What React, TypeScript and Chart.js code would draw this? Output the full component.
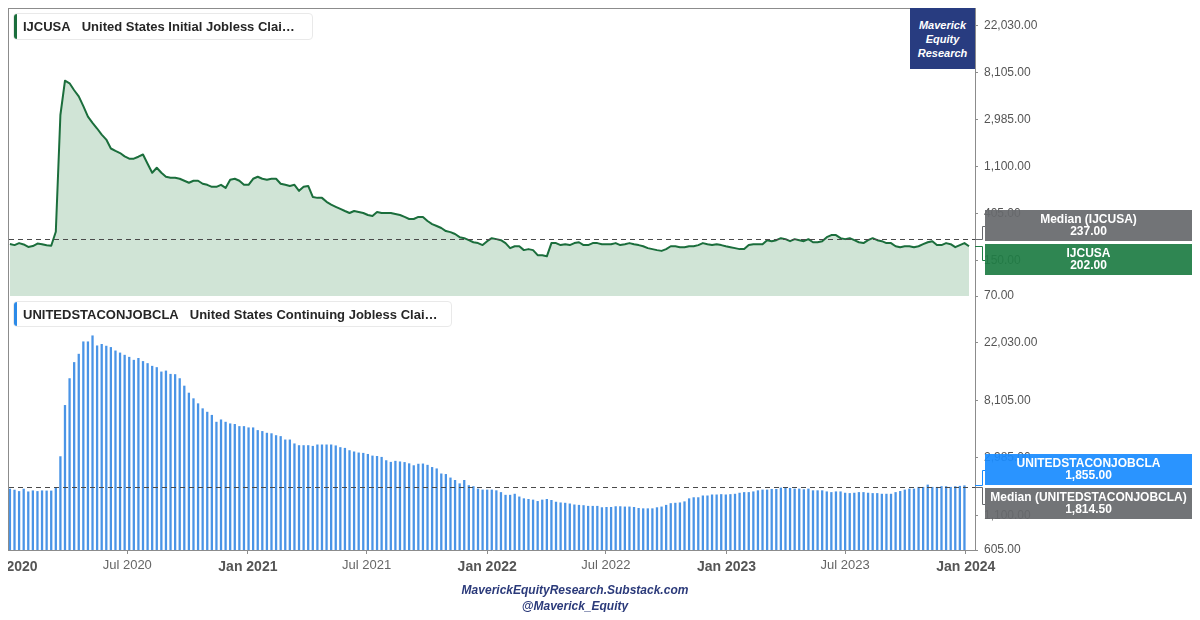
import React, { useEffect, useRef } from 'react';
import { Chart, registerables } from 'chart.js';

Chart.register(...registerables);

// Weekly data, first week ending 2020-01-04 (thousands)
const firstWeek = '2020-01-04';

const initialClaims = [
  212, 207, 216, 210, 199, 203, 214, 211, 206, 204,
  275, 3307, 6867, 6500, 5600, 4910, 4000, 3200, 2800, 2480,
  2180, 1960, 1620, 1540, 1470, 1370, 1304, 1304, 1360, 1425,
  1170, 966, 1076, 966, 887, 868, 868, 850, 815, 781,
  815, 815, 765, 747, 716, 716, 747, 700, 832, 850,
  815, 747, 747, 850, 887, 850, 832, 850, 850, 765,
  747, 730, 747, 657, 716, 730, 577, 566, 566, 520,
  490, 468, 448, 428, 410, 428, 419, 410, 393, 385,
  419, 410, 410, 410, 402, 393, 377, 361, 361, 377,
  377, 346, 324, 311, 298, 279, 273, 262, 245, 240,
  230, 220, 216, 207, 225, 240, 235, 230, 216, 194,
  202, 202, 186, 190, 186, 167, 167, 163, 216, 216,
  207, 211, 207, 216, 220, 207, 207, 216, 216, 211,
  211, 211, 216, 207, 211, 216, 211, 207, 202, 194,
  190, 186, 183, 190, 202, 202, 198, 198, 202, 202,
  207, 216, 211, 207, 211, 207, 202, 198, 194, 190,
  190, 207, 211, 211, 211, 230, 225, 230, 240, 235,
  225, 235, 230, 225, 235, 220, 220, 225, 245, 256,
  256, 240, 235, 240, 230, 220, 216, 230, 240, 230,
  225, 216, 216, 202, 198, 202, 202, 198, 202, 211,
  220, 225, 207, 207, 216, 211, 198, 207, 216, 202,
];

const continuingClaims = [
  1751, 1721, 1680, 1751, 1670, 1700, 1680, 1700, 1695, 1695,
  1782, 3075, 7477, 11900, 15740, 18180, 22530, 22530, 25000, 21010,
  21560, 20900, 20430, 19250, 18570, 17860, 17240, 16370, 16910, 16020,
  15460, 14750, 14420, 13360, 13590, 12830, 12770, 11900, 10460, 9260,
  8400, 7700, 7060, 6650, 6300, 5590, 5820, 5590, 5435, 5380,
  5185, 5185, 5070, 5070, 4840, 4760, 4620, 4580, 4430, 4360,
  4110, 4110, 3840, 3725, 3725, 3725, 3680, 3770, 3770, 3770,
  3770, 3710, 3600, 3555, 3415, 3340, 3280, 3260, 3200, 3110,
  3090, 3040, 2870, 2790, 2840, 2810, 2780, 2720, 2630, 2700,
  2710, 2650, 2550, 2490, 2280, 2259, 2125, 2038, 1921, 2038,
  1861, 1829, 1754, 1724, 1724, 1724, 1703, 1651, 1575, 1575,
  1604, 1529, 1482, 1466, 1449, 1414, 1449, 1466, 1440, 1397,
  1380, 1372, 1355, 1332, 1323, 1316, 1300, 1300, 1300, 1269,
  1276, 1276, 1292, 1292, 1285, 1285, 1276, 1254, 1246, 1246,
  1246, 1269, 1285, 1323, 1363, 1372, 1380, 1406, 1482, 1510,
  1510, 1557, 1557, 1584, 1584, 1594, 1584, 1594, 1604, 1633,
  1651, 1651, 1671, 1703, 1724, 1724, 1744, 1744, 1785, 1785,
  1775, 1754, 1754, 1735, 1754, 1703, 1703, 1703, 1671, 1651,
  1671, 1671, 1633, 1623, 1633, 1651, 1651, 1633, 1623, 1623,
  1604, 1604, 1604, 1651, 1682, 1724, 1754, 1754, 1807, 1807,
  1880, 1807, 1807, 1829, 1829, 1807, 1829, 1840, 1855,
];

const initialMedian = 237;
const continuingMedian = 1814.5;

const topTicks = [70, 150, 405, 1100, 2985, 8105, 22030];
const bottomTicks = [605, 1100, 2985, 8105, 22030];

const xTickDates = [
  '2020-01-01', '2020-07-01', '2021-01-01', '2021-07-01', '2022-01-01',
  '2022-07-01', '2023-01-01', '2023-07-01', '2024-01-01',
];
const xTickLabels = [
  'Jan 2020', 'Jul 2020', 'Jan 2021', 'Jul 2021', 'Jan 2022',
  'Jul 2022', 'Jan 2023', 'Jul 2023', 'Jan 2024',
];

const topTicker = 'IJCUSA';
const topName = 'United States Initial Jobless Clai…';
const bottomTicker = 'UNITEDSTACONJOBCLA';
const bottomName = 'United States Continuing Jobless Clai…';

const FONT = '"Liberation Sans", Arial, Helvetica, sans-serif';
const GREEN = '#1b6e3c';
const GREEN_FILL = '#d0e4d6';
const GREEN_TAG = '#1f7d45';
const BLUE_BAR = '#4a94e6';
const BLUE_TAG = '#1a8cff';
const GRAY_TAG = '#67696d';
const AXIS = '#8c8c8c';
const NAVY = '#283c80';

const weekIndex = (d: string) =>
  (Date.parse(d + 'T00:00:00Z') - Date.parse(firstWeek + 'T00:00:00Z')) / (7 * 86400000);

const X_MIN = -0.2;
const X_MAX = 210.3;
const Y_AXIS_W = 217;

const fmt2 = (v: number) =>
  Number(v).toLocaleString('en-US', { minimumFractionDigits: 2, maximumFractionDigits: 2 });

type Tag = { value: number; color: string; l1: string; l2: string };

function makeOverlay(median: number, tags: Tag[]) {
  return {
    id: 'overlay',
    afterDatasetsDraw(chart: any) {
      const { ctx, chartArea } = chart;
      const y = chart.scales.y;
      const py = Math.round(y.getPixelForValue(median)) + 0.5;
      ctx.save();
      ctx.strokeStyle = '#4a4a4a';
      ctx.lineWidth = 1;
      ctx.setLineDash([5, 4]);
      ctx.beginPath();
      ctx.moveTo(chartArea.left, py);
      ctx.lineTo(chartArea.right, py);
      ctx.stroke();
      ctx.restore();
    },
    afterDraw(chart: any) {
      const { ctx, chartArea } = chart;
      const y = chart.scales.y;
      const H = 31;
      const G = 3;
      const items = tags
        .map((t) => ({ ...t, py: y.getPixelForValue(t.value) }))
        .sort((a, b) => a.py - b.py);
      const total = items.length * H + (items.length - 1) * G;
      const mean = items.reduce((s, t) => s + t.py, 0) / items.length;
      let top = Math.round(mean - total / 2);
      const x0 = chartArea.right + 10;
      const w = chart.width - x0;
      ctx.save();
      items.forEach((t) => {
        const cy = Math.round(top + H / 2) + 0.5;
        const vy = Math.round(t.py) + 0.5;
        ctx.strokeStyle = t.color;
        ctx.lineWidth = 1;
        ctx.beginPath();
        ctx.moveTo(chartArea.right, vy);
        ctx.lineTo(chartArea.right + 7.5, vy);
        ctx.lineTo(chartArea.right + 7.5, cy);
        ctx.lineTo(x0, cy);
        ctx.stroke();
        ctx.globalAlpha = 0.93;
        ctx.fillStyle = t.color;
        ctx.fillRect(x0, top, w, H);
        ctx.globalAlpha = 1;
        ctx.fillStyle = '#ffffff';
        ctx.font = `bold 12px ${FONT}`;
        ctx.textAlign = 'center';
        ctx.textBaseline = 'middle';
        ctx.fillText(t.l1, x0 + w / 2, top + 10);
        ctx.fillText(t.l2, x0 + w / 2, top + 22);
        top += H + G;
      });
      ctx.restore();
    },
  };
}

const noPad = (s: any) => {
  s.paddingLeft = 0;
  s.paddingRight = 0;
  s.paddingTop = 0;
  s.paddingBottom = 0;
};

const yAxisBase = (ticks: number[], min: number, max: number) => ({
  type: 'logarithmic' as const,
  position: 'right' as const,
  min,
  max,
  afterFit: (s: any) => {
    s.width = Y_AXIS_W;
    noPad(s);
  },
  afterBuildTicks: (s: any) => {
    s.ticks = ticks.map((v) => ({ value: v }));
  },
  border: { display: true, color: AXIS, width: 1 },
  grid: { drawOnChartArea: false, drawTicks: true, tickLength: 3, color: AXIS },
  ticks: {
    autoSkip: false,
    padding: 6,
    color: '#555555',
    font: { family: FONT, size: 12 },
    callback: (v: any) => fmt2(Number(v)),
  },
});

export default function App() {
  const topRef = useRef<HTMLCanvasElement>(null);
  const botRef = useRef<HTMLCanvasElement>(null);

  useEffect(() => {
    const topData = initialClaims.map((v, i) => ({ x: i, y: v }));
    const botData = continuingClaims.map((v, i) => ({ x: i, y: v }));
    const lastTop = initialClaims[initialClaims.length - 1];
    const lastBot = continuingClaims[continuingClaims.length - 1];

    const c1 = new Chart(topRef.current as HTMLCanvasElement, {
      type: 'line',
      data: {
        datasets: [
          {
            data: topData,
            borderColor: GREEN,
            backgroundColor: GREEN_FILL,
            borderWidth: 2,
            fill: 'start',
            pointRadius: 0,
            tension: 0,
            borderJoinStyle: 'round',
          },
        ],
      },
      options: {
        responsive: false,
        animation: false,
        layout: { autoPadding: false, padding: { left: 1, top: 0, right: 0, bottom: 9 } },
        plugins: { legend: { display: false }, tooltip: { enabled: false } },
        scales: {
          x: { type: 'linear', display: false, min: X_MIN, max: X_MAX, afterFit: noPad },
          y: yAxisBase(topTicks, 70, 32300),
        },
      } as any,
      plugins: [
        makeOverlay(initialMedian, [
          { value: initialMedian, color: GRAY_TAG, l1: `Median (${topTicker})`, l2: fmt2(initialMedian) },
          { value: lastTop, color: GREEN_TAG, l1: topTicker, l2: fmt2(lastTop) },
        ]),
      ],
    });

    const c2 = new Chart(botRef.current as HTMLCanvasElement, {
      type: 'bar',
      data: {
        datasets: [
          {
            data: botData,
            backgroundColor: BLUE_BAR,
            borderWidth: 0,
            barPercentage: 0.5,
            categoryPercentage: 1,
          },
        ],
      },
      options: {
        responsive: false,
        animation: false,
        layout: { autoPadding: false, padding: { left: 1, top: 0, right: 0, bottom: 0 } },
        plugins: { legend: { display: false }, tooltip: { enabled: false } },
        scales: {
          x: {
            type: 'linear',
            position: 'bottom',
            min: X_MIN,
            max: X_MAX,
            offset: false,
            afterFit: (s: any) => {
              s.height = 38;
              noPad(s);
            },
            afterBuildTicks: (s: any) => {
              s.ticks = xTickDates.map((d) => ({ value: weekIndex(d) }));
            },
            border: { display: true, color: AXIS, width: 1 },
            grid: { drawOnChartArea: false, drawTicks: true, tickLength: 4, color: AXIS, offset: false },
            ticks: {
              autoSkip: false,
              maxRotation: 0,
              minRotation: 0,
              padding: 5,
              callback: (_v: any, i: number) => xTickLabels[i],
              color: (ctx: any) => (xTickLabels[ctx.index] || '').startsWith('Jan') ? '#555555' : '#666666',
              font: (ctx: any) =>
                (xTickLabels[ctx.index] || '').startsWith('Jan')
                  ? { family: FONT, size: 14, weight: 'bold', lineHeight: 1.2 }
                  : { family: FONT, size: 13, weight: 'normal', lineHeight: 1.0 },
            },
          },
          y: yAxisBase(bottomTicks, 605, 48700),
        },
      } as any,
      plugins: [
        makeOverlay(continuingMedian, [
          { value: lastBot, color: BLUE_TAG, l1: bottomTicker, l2: fmt2(lastBot) },
          { value: continuingMedian, color: GRAY_TAG, l1: `Median (${bottomTicker})`, l2: fmt2(continuingMedian) },
        ]),
      ],
    });

    return () => {
      c1.destroy();
      c2.destroy();
    };
  }, []);

  const legendBox = (top: number, width: number, height: number, color: string, ticker: string, name: string) => (
    <div
      style={{
        position: 'absolute',
        left: 5,
        top,
        width,
        height,
        boxSizing: 'border-box',
        background: '#ffffff',
        border: '1px solid #e9e9e9',
        borderRadius: 4,
        display: 'flex',
        alignItems: 'center',
        paddingLeft: 9,
        font: `bold 13px ${FONT}`,
        color: '#262626',
        whiteSpace: 'nowrap',
        overflow: 'hidden',
      }}
    >
      <div
        style={{
          position: 'absolute',
          left: -1,
          top: -1,
          bottom: -1,
          width: 4,
          background: color,
          borderRadius: 3,
        }}
      />
      <span style={{ marginRight: 11 }}>{ticker}</span>
      <span>{name}</span>
    </div>
  );

  return (
    <div style={{ position: 'relative', width: 1184, height: 604, fontFamily: FONT }}>
      <canvas ref={botRef} width={1184} height={291} style={{ position: 'absolute', left: 0, top: 289 }} />
      <canvas ref={topRef} width={1184} height={297} style={{ position: 'absolute', left: 0, top: 0 }} />
      <div
        style={{
          position: 'absolute',
          left: 0,
          top: 0,
          width: 968,
          height: 543,
          boxSizing: 'border-box',
          borderTop: `1px solid ${AXIS}`,
          borderLeft: `1px solid ${AXIS}`,
          pointerEvents: 'none',
        }}
      />
      {legendBox(5, 300, 27, GREEN, topTicker, topName)}
      {legendBox(293, 439, 26, '#2b8ae8', bottomTicker, bottomName)}
      <div
        style={{
          position: 'absolute',
          left: 902,
          top: 0,
          width: 65,
          height: 61,
          background: NAVY,
          color: '#ffffff',
          font: `italic bold 11px ${FONT}`,
          lineHeight: '14px',
          textAlign: 'center',
          boxSizing: 'border-box',
          paddingTop: 10,
        }}
      >
        Maverick
        <br />
        Equity
        <br />
        Research
      </div>
      <div
        style={{
          position: 'absolute',
          left: 367,
          top: 574,
          width: 400,
          textAlign: 'center',
          font: `italic bold 12px ${FONT}`,
          lineHeight: '16px',
          color: '#2b3a7a',
        }}
      >
        MaverickEquityResearch.Substack.com
        <br />
        @Maverick_Equity
      </div>
    </div>
  );
}
